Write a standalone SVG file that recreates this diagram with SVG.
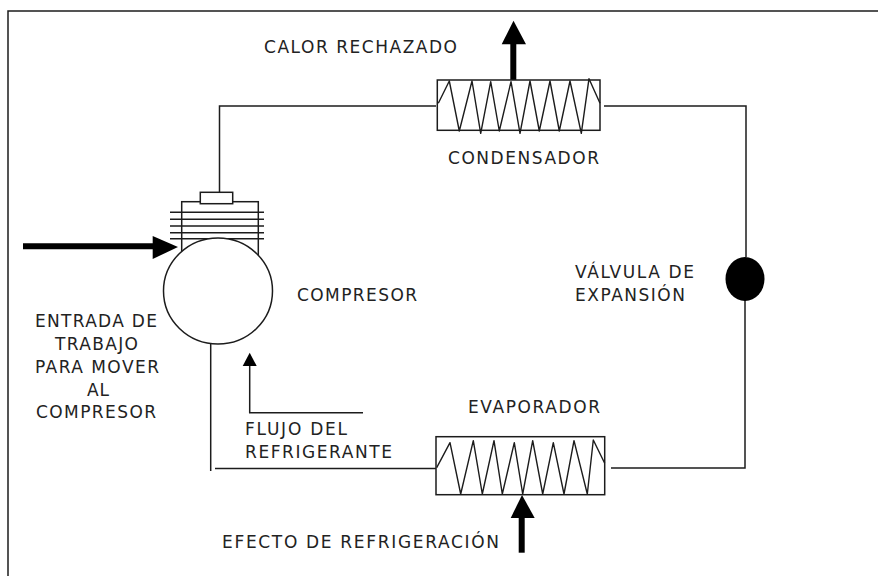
<svg xmlns="http://www.w3.org/2000/svg" width="878" height="576" viewBox="0 0 878 576">
<style>
.l{fill:none;stroke:#1c1c1c;stroke-width:1.5}
.c{fill:#fff;stroke:#1c1c1c;stroke-width:1.5}
.z{fill:none;stroke:#1c1c1c;stroke-width:1.4;stroke-linejoin:round}
.b{fill:#000;stroke:none}
.s{fill:none;stroke:#000;stroke-width:6}
text{font-family:"DejaVu Sans",sans-serif;font-size:17px;fill:#222}
</style>
<rect width="878" height="576" fill="#fff"/>
<g id="frame">
<path class="l" d="M8 576V11H878"/>
</g>
<g id="connectors">
<path class="l" d="M219.5 192V106H436"/>
<path class="l" d="M604 106H746V257"/>
<path class="l" d="M745 300V468H611"/>
<path class="l" d="M436 468.5H215"/>
<path class="l" d="M210.7 343V471"/>
<path class="l" d="M363 412.7H249.7V365"/>
<polygon class="b" points="249.7,352.7 256.7,366 242.7,366"/>
<path class="s" d="M23 246.3H154"/>
<polygon class="b" points="152.7,236 178,247 152.7,259"/>
<path class="s" d="M513.3 80V43"/>
<polygon class="b" points="513.5,20.7 526,44.3 501.7,44.3"/>
<path class="s" d="M521.7 552.7V517"/>
<polygon class="b" points="522,495 534.7,518 510.7,518"/>
</g>
<g id="compresor">
<rect class="c" x="181.7" y="201.7" width="76.6" height="60"/>
<rect class="c" x="200.3" y="192.3" width="32.4" height="11.4"/>
<path class="l" d="M170 212.3H264M170 219.3H264M170 226H264M170 232.7H264M170 238.7H264"/>
<ellipse class="c" cx="218" cy="291" rx="54.5" ry="53"/>
<text x="297" y="301" textLength="120">COMPRESOR</text>
</g>
<g id="condensador">
<rect class="l" x="437.3" y="80" width="162.7" height="50.3"/>
<polyline class="z" points="438.3,103.3 449.3,81 459.3,131 472,81 480.7,133.3 490.7,81.7 499.3,131 511,81.7 520,133.3 530,81 539.3,131 550,81 559.3,131 570,81 581.3,133.3 589,78.7 600,103.3"/>
<text x="448" y="164" textLength="151">CONDENSADOR</text>
</g>
<g id="evaporador">
<rect class="l" x="436" y="436.7" width="168.7" height="58"/>
<polyline class="z" points="436.7,467.7 450,442.7 460.7,494 473.3,440.7 482.3,494 494,440.7 502.3,494 514.3,442.7 522.7,494 532.7,440.7 542.7,494 553.3,442.7 564,494 574,440.7 587.3,494 593.3,440 604.7,463.3"/>
<text x="468" y="413" textLength="132">EVAPORADOR</text>
</g>
<g id="valvula">
<ellipse class="b" cx="745" cy="279" rx="19.5" ry="22"/>
<text x="575" y="278" textLength="119">VÁLVULA DE</text>
<text x="575" y="301" textLength="110">EXPANSIÓN</text>
</g>
<g id="labels">
<text x="264" y="53" textLength="193">CALOR RECHAZADO</text>
<text x="35" y="327" textLength="122">ENTRADA DE</text>
<text x="55" y="350" textLength="83">TRABAJO</text>
<text x="35" y="373" textLength="124">PARA MOVER</text>
<text x="87" y="396" textLength="22">AL</text>
<text x="36" y="418" textLength="120">COMPRESOR</text>
<text x="245" y="435" textLength="102">FLUJO DEL</text>
<text x="245" y="458" textLength="147">REFRIGERANTE</text>
<text x="222" y="548" textLength="277">EFECTO DE REFRIGERACIÓN</text>
</g>
</svg>
